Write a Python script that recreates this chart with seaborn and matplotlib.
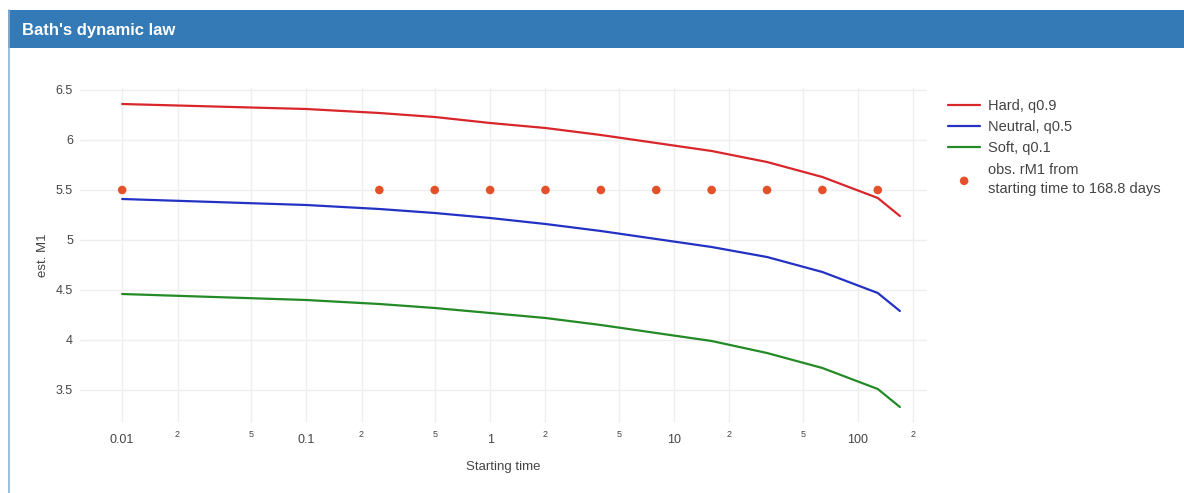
import numpy as np
import pandas as pd
import matplotlib
matplotlib.use("Agg")
import matplotlib.pyplot as plt
import seaborn as sns
from matplotlib.patches import Rectangle
from matplotlib.lines import Line2D
from matplotlib.ticker import FixedLocator, FixedFormatter

# ---------------- data ----------------
line_times = [0.01, 0.1, 0.25, 0.5, 1, 2, 4, 8, 16, 32, 64, 128, 168.8]
hard_q09 = [6.36, 6.31, 6.27, 6.23, 6.17, 6.12, 6.05, 5.97, 5.89, 5.78, 5.63, 5.42, 5.24]
neutral_q05 = [5.41, 5.35, 5.31, 5.27, 5.22, 5.16, 5.09, 5.01, 4.93, 4.83, 4.68, 4.47, 4.29]
soft_q01 = [4.46, 4.40, 4.36, 4.32, 4.27, 4.22, 4.15, 4.07, 3.99, 3.87, 3.72, 3.51, 3.33]

obs_times = [0.01, 0.25, 0.5, 1, 2, 4, 8, 16, 32, 64, 128]
obs_rm1 = [5.5] * len(obs_times)

series_names = ["Hard, q0.9", "Neutral, q0.5", "Soft, q0.1"]
obs_label = "obs. rM1 from\nstarting time to 168.8 days"

major_ticks = [0.01, 0.1, 1, 10, 100]
major_labels = ["0.01", "0.1", "1", "10", "100"]
minor_ticks = [0.02, 0.05, 0.2, 0.5, 2, 5, 20, 50, 200]
minor_labels = ["2", "5", "2", "5", "2", "5", "2", "5", "2"]
y_ticks = [3.5, 4, 4.5, 5, 5.5, 6, 6.5]
y_labels = ["3.5", "4", "4.5", "5", "5.5", "6", "6.5"]

title = "Bath's dynamic law"
x_title = "Starting time"
y_title = "est. M1"

# ---------------- build table ----------------
df = pd.concat([
    pd.DataFrame({"t": line_times, "m": vals, "series": name})
    for name, vals in zip(series_names, [hard_q09, neutral_q05, soft_q01])
], ignore_index=True)
obs_df = pd.DataFrame({"t": obs_times, "m": obs_rm1})

palette = {"Hard, q0.9": "#d8262b", "Neutral, q0.5": "#2432c4", "Soft, q0.1": "#238a25"}
dot_color = "#e4502a"

sns.set_theme(style="white")
plt.rcParams["font.family"] = ["Liberation Sans", "DejaVu Sans"]

fig = plt.figure(figsize=(11.84, 4.93), dpi=100)
fig.patch.set_facecolor("white")

# panel header and border
W, H = 1184, 493
fig.patches.append(Rectangle((8 / W, 1 - 48 / H), 1.0, 38 / H, transform=fig.transFigure,
                             facecolor="#337ab7", edgecolor="none", zorder=0))
fig.lines.append(Line2D([8.5 / W, 8.5 / W], [0, 1 - 10 / H], transform=fig.transFigure,
                        color="#8db3d6", lw=1.2))
fig.text(22 / W, 1 - 30 / H, title, color="white", fontsize=12, fontweight="bold",
         va="center", ha="left")

ax = fig.add_axes([80 / W, 1 - 423 / H, (927 - 80) / W, (423 - 88) / H])

sns.lineplot(data=df, x="t", y="m", hue="series", hue_order=series_names,
             palette=palette, linewidth=1.6, ax=ax, sort=False, estimator=None)
sns.scatterplot(data=obs_df, x="t", y="m", color=dot_color, s=38, edgecolor="none",
                ax=ax, label=obs_label, zorder=5)

ax.set_xscale("log")
ax.set_xlim(0.0059, 237)
ax.set_ylim(3.17, 6.52)

ax.xaxis.set_major_locator(FixedLocator(major_ticks))
ax.xaxis.set_major_formatter(FixedFormatter(major_labels))
ax.xaxis.set_minor_locator(FixedLocator(minor_ticks))
ax.xaxis.set_minor_formatter(FixedFormatter(minor_labels))
ax.yaxis.set_major_locator(FixedLocator(y_ticks))
ax.yaxis.set_major_formatter(FixedFormatter(y_labels))

ax.tick_params(axis="x", which="major", length=0, pad=8, labelsize=9, labelcolor="#444444")
ax.tick_params(axis="x", which="minor", length=0, pad=5, labelsize=6.5, labelcolor="#444444")
ax.tick_params(axis="y", length=0, pad=5, labelsize=9, labelcolor="#444444")

ax.grid(True, which="both", axis="x", color="#eeeeee", lw=1)
ax.grid(True, which="major", axis="y", color="#eeeeee", lw=1)
ax.set_axisbelow(True)
for s in ax.spines.values():
    s.set_visible(False)

ax.set_xlabel(x_title, fontsize=9.5, color="#444444", labelpad=11)
ax.set_ylabel(y_title, fontsize=9.5, color="#444444", labelpad=5)

handles, labels = ax.get_legend_handles_labels()
leg = ax.legend(handles, labels, loc="upper left", bbox_to_anchor=(1.018, 0.985),
                frameon=False, fontsize=10.5, handlelength=2.2, handletextpad=0.55,
                labelspacing=0.5, labelcolor="#444444", borderaxespad=0)
for t in leg.get_texts():
    t.set_linespacing(1.45)

fig.savefig("out.png", dpi=100, facecolor="white")
